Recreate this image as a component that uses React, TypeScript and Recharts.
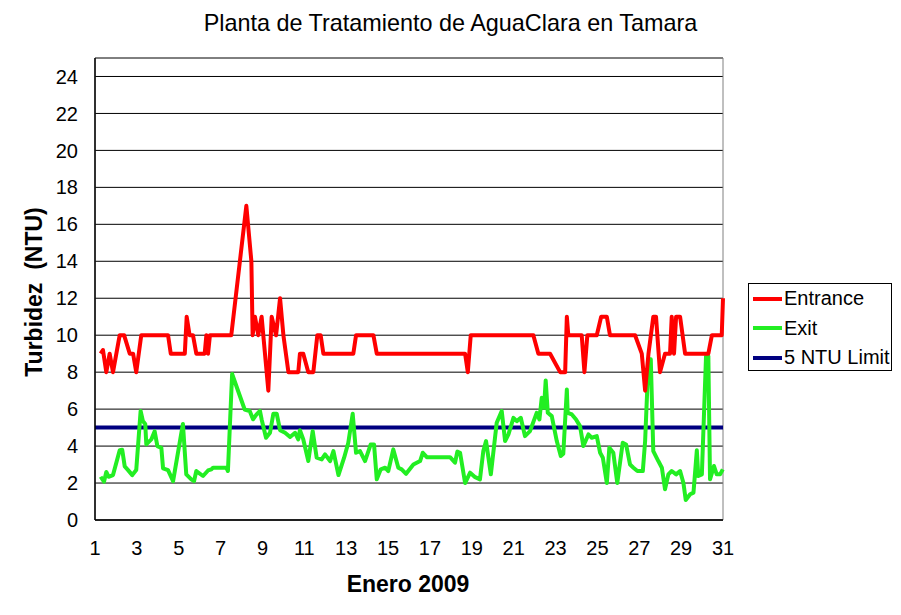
import { LineChart, Line, XAxis, YAxis, CartesianGrid, ReferenceArea } from "recharts";

// Turbidity readings, January 2009 (day of month as a decimal)
const entranceDays = [
  1.27, 1.38, 1.54, 1.7, 1.86, 2.18, 2.39, 2.66, 2.82, 2.97, 3.21, 4.49, 4.62, 5.29, 5.38, 5.52,
  5.68, 5.84, 6.24, 6.32, 6.4, 6.49, 7.51, 8.23, 8.47, 8.53, 8.64, 8.8, 8.96, 9.28, 9.44, 9.65,
  9.84, 10.0, 10.24, 10.71, 10.79, 10.95, 11.19, 11.43, 11.62, 11.78, 11.91, 13.34, 13.47, 14.3,
  14.46, 18.68, 18.81, 18.95, 21.94, 22.18, 22.74, 23.22, 23.46, 23.54, 23.61, 24.25, 24.38,
  24.52, 24.97, 25.18, 25.45, 25.6, 26.8, 27.12, 27.28, 27.44, 27.67, 27.8, 27.99, 28.23, 28.47,
  28.55, 28.66, 28.76, 28.95, 29.19, 30.3, 30.47, 30.94, 31.0,
];
const entranceNtu = [
  9, 9.2, 8, 9, 8, 10, 10, 9, 9, 8, 10, 10, 9, 9, 11, 10,
  10, 9, 9, 10, 9, 10, 10, 17, 14, 10, 11, 10, 11, 7, 11, 10,
  12, 10, 8, 8, 9, 9, 8, 8, 10, 10, 9, 9, 10, 10,
  9, 9, 8, 10, 10, 9, 9, 8, 8, 11, 10, 10, 8,
  10, 10, 11, 11, 10, 10, 9, 7, 9, 11, 11, 8, 9, 9,
  11, 9, 11, 11, 9, 9, 10, 10, 12,
];

const exitDays = [
  1.27, 1.43, 1.54, 1.65, 1.86, 2.18, 2.3, 2.42, 2.58, 2.78, 2.97, 3.18, 3.29, 3.4, 3.45, 3.69,
  3.85, 3.98, 4.17, 4.25, 4.49, 4.73, 5.2, 5.36, 5.6, 5.73, 5.84, 6.16, 6.4, 6.56, 6.64, 7.27,
  7.35, 7.55, 8.15, 8.39, 8.55, 8.71, 8.88, 8.96, 9.17, 9.36, 9.52, 9.68, 9.84, 10.08, 10.32,
  10.56, 10.71, 10.79, 10.95, 11.19, 11.4, 11.59, 11.83, 11.99, 12.23, 12.39, 12.63, 12.9, 13.1,
  13.31, 13.47, 13.66, 13.9, 14.17, 14.33, 14.46, 14.65, 14.86, 15.01, 15.25, 15.49, 15.65,
  15.86, 16.21, 16.53, 16.66, 16.85, 17.96, 18.2, 18.31, 18.44, 18.68, 18.92, 19.16, 19.39,
  19.55, 19.68, 19.91, 20.19, 20.43, 20.59, 20.75, 20.99, 21.15, 21.34, 21.54, 21.78, 22.1,
  22.23, 22.34, 22.45, 22.53, 22.63, 22.82, 23.06, 23.25, 23.37, 23.54, 23.58, 23.78, 23.98,
  24.17, 24.33, 24.57, 24.73, 24.97, 25.13, 25.26, 25.45, 25.57, 25.76, 25.95, 26.21, 26.37,
  26.56, 26.72, 26.91, 27.17, 27.28, 27.44, 27.55, 27.67, 27.91, 28.08, 28.23, 28.39, 28.55,
  28.76, 28.95, 29.11, 29.22, 29.43, 29.59, 29.75, 29.82, 29.99, 30.19, 30.3, 30.38, 30.57,
  30.7, 30.86, 30.99,
];
const exitNtu = [
  2.34, 2.07, 2.6, 2.34, 2.43, 3.78, 3.8, 2.9, 2.7, 2.43, 2.7, 5.9, 5.35, 5.2, 4.1, 4.36,
  4.8, 4.0, 3.9, 2.8, 2.7, 2.1, 5.2, 2.47, 2.2, 2.1, 2.65, 2.38, 2.68, 2.74, 2.83, 2.83,
  2.65, 7.9, 5.98, 5.9, 5.45, 5.7, 5.9, 5.44, 4.45, 4.72, 5.75, 5.75, 4.86, 4.72, 4.49,
  4.72, 4.36, 4.86, 4.36, 3.19, 4.81, 3.37, 3.28, 3.55, 3.19, 3.73, 2.43, 3.37, 4.18,
  5.75, 3.64, 3.73, 3.19, 4.09, 4.09, 2.2, 2.74, 2.83, 2.65, 3.82, 2.83, 2.74,
  2.5, 3.0, 3.19, 3.64, 3.4, 3.4, 3.1, 3.7, 3.64, 2.0, 2.56, 2.32, 2.2,
  3.73, 4.27, 2.47, 5.26, 5.9, 4.27, 4.63, 5.53, 5.35, 5.53, 4.54, 4.81, 5.8,
  5.44, 6.61, 6.07, 7.55, 5.8, 5.62, 4.27, 3.46, 3.58, 7.06, 5.8, 5.71, 5.44,
  5.08, 4.0, 4.63, 4.45, 4.54, 3.64, 3.37, 2.0, 3.91, 3.64, 2.0, 4.18, 4.09,
  3.0, 2.83, 2.65, 2.65, 4.27, 8.7, 8.7, 3.73, 3.19, 2.83, 1.66, 2.47, 2.65,
  2.47, 2.65, 2.0, 1.08, 1.39, 1.48, 3.77, 2.38, 2.47, 8.87, 8.87, 2.2, 2.92,
  2.47, 2.47, 2.74,
];

const limitDays = [1, 31];
const limitNtu = [5, 5];

const xTicks = [1, 3, 5, 7, 9, 11, 13, 15, 17, 19, 21, 23, 25, 27, 29, 31];
const yTicks = [0, 2, 4, 6, 8, 10, 12, 14, 16, 18, 20, 22, 24];

const entrance = entranceDays.map((day, i) => ({ day, ntu: entranceNtu[i] }));
const exit = exitDays.map((day, i) => ({ day, ntu: exitNtu[i] }));
const limit = limitDays.map((day, i) => ({ day, ntu: limitNtu[i] }));

const legendItems = [
  { name: "Entrance", color: "#ff0000" },
  { name: "Exit", color: "#22ee22" },
  { name: "5 NTU Limit", color: "#000080" },
];

const font = '"Liberation Sans", Arial, sans-serif';

export default function App() {
  return (
    <div
      style={{
        position: "absolute",
        left: 0,
        top: 0,
        width: 901,
        height: 615,
        background: "#fff",
        fontFamily: font,
      }}
    >
      <div
        style={{
          position: "absolute",
          top: 9,
          left: 0,
          width: 901,
          textAlign: "center",
          fontSize: 23.4,
          lineHeight: "28px",
          color: "#000",
        }}
      >
        Planta de Tratamiento de AguaClara en Tamara
      </div>

      <LineChart
        width={901}
        height={615}
        margin={{ top: 58, right: 178, bottom: 55, left: 0 }}
        style={{ position: "absolute", left: 0, top: 0 }}
      >
        <CartesianGrid vertical={false} stroke="#000" strokeWidth={1} />
        <ReferenceArea x1={1} x2={31} y1={0} y2={25} fill="none" stroke="#808080" strokeWidth={1} />
        <XAxis
          dataKey="day"
          type="number"
          domain={[1, 31]}
          ticks={xTicks}
          allowDuplicatedCategory={false}
          height={40}
          tickSize={0}
          tickMargin={21}
          tickLine={false}
          axisLine={{ stroke: "#000", strokeWidth: 1.5 }}
          tick={{ fill: "#000", fontSize: 20 }}
          interval={0}
        />
        <YAxis
          type="number"
          domain={[0, 25]}
          ticks={yTicks}
          width={95}
          tickSize={0}
          tickMargin={17}
          tickLine={false}
          axisLine={{ stroke: "#000", strokeWidth: 1.5 }}
          tick={{ fill: "#000", fontSize: 20 }}
          interval={0}
        />
        <Line
          data={limit}
          dataKey="ntu"
          name="5 NTU Limit"
          stroke="#000080"
          strokeWidth={4}
          dot={false}
          isAnimationActive={false}
        />
        <Line
          data={exit}
          dataKey="ntu"
          name="Exit"
          stroke="#22ee22"
          strokeWidth={4}
          strokeLinejoin="round"
          dot={false}
          isAnimationActive={false}
        />
        <Line
          data={entrance}
          dataKey="ntu"
          name="Entrance"
          stroke="#ff0000"
          strokeWidth={4}
          strokeLinejoin="round"
          dot={false}
          isAnimationActive={false}
        />
      </LineChart>

      <svg
        width={901}
        height={615}
        style={{ position: "absolute", left: 0, top: 0, pointerEvents: "none" }}
      >
        <text
          x={33.5}
          y={292}
          transform="rotate(-90 33.5 292)"
          textAnchor="middle"
          dominantBaseline="central"
          fontSize={23}
          fontWeight="bold"
          fill="#000"
          style={{ whiteSpace: "pre" }}
        >
          {"Turbidez\u00a0 (NTU)"}
        </text>
        <text x={408} y={592} textAnchor="middle" fontSize={23} fontWeight="bold" fill="#000">
          Enero 2009
        </text>
      </svg>

      <div
        style={{
          position: "absolute",
          left: 748,
          top: 283,
          width: 142,
          height: 86,
          border: "1px solid #000",
          background: "#fff",
        }}
      >
        {legendItems.map((item) => (
          <div
            key={item.name}
            style={{ display: "flex", alignItems: "center", height: 29.5, paddingLeft: 4 }}
          >
            <span
              style={{
                display: "inline-block",
                width: 29,
                height: 4,
                background: item.color,
                marginRight: 2,
              }}
            />
            <span style={{ fontSize: 20, color: "#000", whiteSpace: "nowrap" }}>{item.name}</span>
          </div>
        ))}
      </div>
    </div>
  );
}
